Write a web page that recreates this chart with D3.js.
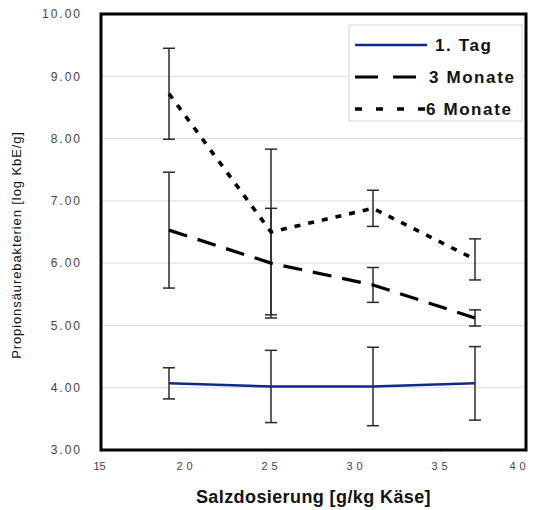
<!DOCTYPE html>
<html>
<head>
<meta charset="utf-8">
<script src="https://cdn.jsdelivr.net/npm/d3@7"></script>
<style>
  body { margin: 0; background: #fff; }
  text { font-family: "Liberation Sans", Arial, sans-serif; }
</style>
</head>
<body>
<div id="chart"></div>
<script>
// salt dosage (x) and log counts per storage time
var salz = [19, 25, 31, 37];
var tag1 = [4.07, 4.02, 4.02, 4.07];
var tag1Err = [0.25, 0.58, 0.63, 0.59];
var monate3 = [6.53, 6.0, 5.65, 5.12];
var monate3Err = [0.93, 0.88, 0.28, 0.13];
var monate6 = [8.72, 6.5, 6.88, 6.06];
var monate6Err = [0.73, 1.33, 0.29, 0.33];
var seriesNames = ["1. Tag", "3 Monate", "6 Monate"];
var xTicks = [15, 20, 25, 30, 35, 40];
var yTicks = [3, 4, 5, 6, 7, 8, 9, 10];

var width = 534, height = 510;
var margin = {top: 14, right: 8, bottom: 60, left: 101};

var svg = d3.select("#chart").append("svg")
    .attr("width", width)
    .attr("height", height);

var x = d3.scaleLinear().domain([15, 40]).range([margin.left, width - margin.right]);
var y = d3.scaleLinear().domain([3, 10]).range([height - margin.bottom, margin.top]);

// gridlines
svg.append("g").selectAll("line")
    .data(yTicks)
    .enter().append("line")
    .attr("x1", x(15)).attr("x2", x(40))
    .attr("y1", function (d) { return y(d); })
    .attr("y2", function (d) { return y(d); })
    .attr("stroke", "#dcdcdc")
    .attr("stroke-width", 1);

// y axis labels
var yAxis = d3.axisLeft(y).tickValues(yTicks).tickSize(0).tickPadding(19)
    .tickFormat(d3.format(".2f"));
var gy = svg.append("g").attr("transform", "translate(" + x(15) + ",0)").call(yAxis);
gy.select(".domain").remove();
gy.selectAll("text")
    .attr("fill", "#444")
    .attr("font-size", 12)
    .attr("letter-spacing", "2px")
    .attr("font-family", "Liberation Sans, Arial, sans-serif");

// x axis labels
var xAxis = d3.axisBottom(x).tickValues(xTicks).tickSize(3).tickPadding(9)
    .tickFormat(d3.format("d"));
var gx = svg.append("g").attr("transform", "translate(0," + y(3) + ")").call(xAxis);
gx.select(".domain").remove();
gx.selectAll("line").attr("stroke", "#ddd");
gx.selectAll("text")
    .attr("fill", "#444")
    .attr("font-size", 11)
    .attr("letter-spacing", function (d) { return d == 15 ? "0px" : "4px"; })
    .attr("dx", function (d) { return d == 15 ? -2 : (d == 40 ? -7 : 0); })
    .attr("font-family", "Liberation Sans, Arial, sans-serif");

// error bars
function drawErrors(vals, errs) {
    var g = svg.append("g").attr("stroke", "#2a2a2a").attr("stroke-width", 1.5);
    salz.forEach(function (s, i) {
        var lo = vals[i] - errs[i], hi = vals[i] + errs[i];
        g.append("line").attr("x1", x(s)).attr("x2", x(s)).attr("y1", y(lo)).attr("y2", y(hi));
        g.append("line").attr("x1", x(s) - 6).attr("x2", x(s) + 6).attr("y1", y(lo)).attr("y2", y(lo));
        g.append("line").attr("x1", x(s) - 6).attr("x2", x(s) + 6).attr("y1", y(hi)).attr("y2", y(hi));
    });
}
drawErrors(tag1, tag1Err);
drawErrors(monate3, monate3Err);
drawErrors(monate6, monate6Err);

var line = d3.line()
    .x(function (d, i) { return x(salz[i]); })
    .y(function (d) { return y(d); });

var styles = [
    {data: tag1, color: "#102a8c", width: 2.5, dash: null, legDash: null},
    {data: monate3, color: "#000", width: 3.2, dash: "19,11", legDash: "23,15"},
    {data: monate6, color: "#000", width: 3.6, dash: "6,8", legDash: "7,14"}
];

styles.forEach(function (s) {
    svg.append("path")
        .datum(s.data)
        .attr("d", line)
        .attr("fill", "none")
        .attr("stroke", s.color)
        .attr("stroke-width", s.width)
        .attr("stroke-dasharray", s.dash);
});

// plot border
svg.append("rect")
    .attr("x", x(15)).attr("y", y(10))
    .attr("width", x(40) - x(15)).attr("height", y(3) - y(10))
    .attr("fill", "none")
    .attr("stroke", "#000")
    .attr("stroke-width", 3);

// legend
var legend = svg.append("g").attr("transform", "translate(349,25)");
legend.append("rect")
    .attr("width", 173).attr("height", 96)
    .attr("fill", "#fff")
    .attr("stroke", "#d4d4d4");
seriesNames.forEach(function (name, i) {
    var s = styles[i];
    var ly = 20 + i * 32;
    legend.append("line")
        .attr("x1", 6).attr("x2", i == 2 ? 81 : 78)
        .attr("y1", ly).attr("y2", ly)
        .attr("stroke", s.color)
        .attr("stroke-width", s.width)
        .attr("stroke-dasharray", s.legDash);
    legend.append("text")
        .attr("x", i == 2 ? 77 : (i == 1 ? 80 : 86))
        .attr("y", ly + 6)
        .attr("font-size", 17)
        .attr("font-weight", "bold")
        .attr("letter-spacing", "1.6px")
        .attr("fill", "#111")
        .text(name);
});

// axis titles
svg.append("text")
    .attr("x", (x(15) + x(40)) / 2)
    .attr("y", 503)
    .attr("text-anchor", "middle")
    .attr("font-size", 18)
    .attr("font-weight", "bold")
    .attr("letter-spacing", "0.4px")
    .attr("fill", "#111")
    .text("Salzdosierung [g/kg Käse]");

svg.append("text")
    .attr("transform", "translate(21," + 245 + ") rotate(-90)")
    .attr("text-anchor", "middle")
    .attr("font-size", 13)
    .attr("letter-spacing", "0.9px")
    .attr("fill", "#111")
    .text("Propionsäurebakterien [log KbE/g]");
</script>
</body>
</html>
